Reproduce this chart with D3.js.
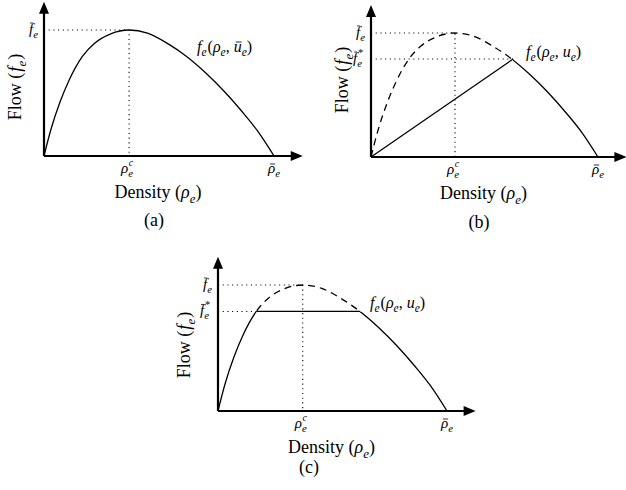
<!DOCTYPE html>
<html>
<head>
<meta charset="utf-8">
<script src="https://cdn.jsdelivr.net/npm/d3@7"></script>
<style>
  body { margin: 0; background: #fff; }
</style>
</head>
<body>
<svg id="fig" width="626" height="490"></svg>
<script>
// fundamental diagram, normalised: density / jam density, flow / capacity
const density = [0, 0.03, 0.07, 0.11, 0.167, 0.22, 0.29, 0.37, 0.45, 0.54, 0.62, 0.7, 0.78, 0.86, 0.93, 1.0]
const flow    = [0, 0.21, 0.43, 0.605, 0.79, 0.895, 0.97, 1.0, 0.975, 0.89, 0.79, 0.665, 0.52, 0.355, 0.195, 0]
const criticalDensity = 0.37
const capacity = 1
const reducedCapacity = 0.79      // f̄*_e
const kneeB = [0.626, 0.79]       // panel (b) corner of the reduced diagram
const plateauC = [0.167, 0.62]    // panel (c) flat part

const points = density.map((d, i) => ({rho: d, f: flow[i]}))

const FONT = '"Liberation Serif", "Times New Roman", "DejaVu Serif", serif'

// pixel frame of each panel: origin and where rho = 1 / f = 1 land
const panels = [
  {id: 'a', left: 44, right: 274, bottom: 156, top: 30, cap: [154, 226], flowLab: [15, 87], fn: [197, 52], fnText: 'ubar'},
  {id: 'b', left: 371, right: 598, bottom: 157, top: 33, cap: [479, 228], flowLab: [342, 80], fn: [526, 57], fnText: 'u'},
  {id: 'c', left: 218, right: 447, bottom: 411, top: 285, cap: [309, 473], flowLab: [184, 345], fn: [370, 308], fnText: 'u'}
]

const svg = d3.select('#fig')
const defs = svg.append('defs')

// math-ish labels. part: {t, k: 'it'|'rm'|'sub'|'ssup', bar, dx}
// 'ssup' = superscript stacked over the following subscript (drawn as its own text)
function mathText(g, x, y, parts, size, anchor) {
  const t = g.append('text')
    .attr('x', x).attr('y', y)
    .attr('text-anchor', anchor || 'start')
    .style('font-family', FONT)
    .style('font-size', size + 'px')
  let shift = 0, idx = 0
  const bars = [], stacks = []
  parts.forEach(p => {
    if (p.k === 'ssup') { stacks.push({t: p.t, at: idx - 1}); return }
    const s = t.append('tspan').text(p.t)
    let target = 0
    if (p.k === 'it') s.style('font-style', 'italic')
    if (p.k === 'sub') { s.style('font-style', 'italic').style('font-size', (size * 0.72) + 'px'); target = size * 0.25 }
    if (target - shift !== 0) s.attr('dy', target - shift)
    shift = target
    if (p.dx) s.attr('dx', p.dx)
    if (p.bar) bars.push({at: idx, lift: p.bar})
    idx += p.t.length
  })
  const node = t.node()
  bars.forEach(b => {
    const r = node.getExtentOfChar(b.at)
    const by = y - b.lift
    g.append('line')
      .attr('x1', r.x + r.width * 0.25).attr('x2', r.x + r.width * 1.0)
      .attr('y1', by).attr('y2', by)
      .attr('stroke', '#000').attr('stroke-width', 0.8)
  })
  stacks.forEach(s => {
    const r = node.getExtentOfChar(s.at)
    g.append('text')
      .attr('x', r.x + r.width + 0.5).attr('y', y - size * 0.5)
      .style('font-family', FONT).style('font-style', 'italic')
      .style('font-size', (size * 0.66) + 'px')
      .text(s.t)
  })
  return t
}

panels.forEach(p => {
  const g = svg.append('g').attr('class', 'panel-' + p.id)
  const x = d3.scaleLinear().domain([0, 1]).range([p.left, p.right])
  const y = d3.scaleLinear().domain([0, 1]).range([p.bottom, p.top])
  const xMax = 1.125, yMax = 1.225

  const line = d3.line()
    .curve(d3.curveMonotoneX)
    .x(d => x(d.rho))
    .y(d => y(d.f))

  // dotted guides to capacity
  g.append('path')
    .attr('d', `M${x(0)},${y(capacity)}H${x(criticalDensity)}V${y(0)}`)
    .attr('fill', 'none').attr('stroke', '#000')
    .attr('stroke-width', 1.1).attr('stroke-dasharray', '1.1,3.6')

  if (p.id !== 'a') {
    g.append('line')
      .attr('x1', x(0)).attr('x2', x(p.id === 'b' ? kneeB[0] : plateauC[0]))
      .attr('y1', y(reducedCapacity)).attr('y2', y(reducedCapacity))
      .attr('stroke', '#000').attr('stroke-width', 1.1).attr('stroke-dasharray', '1.1,3.6')
  }

  const curveStyle = sel => sel.attr('fill', 'none').attr('stroke', '#000').attr('stroke-width', 1.3)

  if (p.id === 'a') {
    g.append('path').datum(points).attr('d', line).call(curveStyle)
  } else if (p.id === 'b') {
    defs.append('clipPath').attr('id', 'clipB1').append('rect')
      .attr('x', 0).attr('y', 0).attr('width', x(kneeB[0])).attr('height', 490)
    defs.append('clipPath').attr('id', 'clipB2').append('rect')
      .attr('x', x(kneeB[0])).attr('y', 0).attr('width', 626).attr('height', 490)
    g.append('path').datum(points).attr('d', line).call(curveStyle)
      .attr('stroke-dasharray', '7,5').attr('clip-path', 'url(#clipB1)')
    g.append('path').datum(points).attr('d', line).call(curveStyle)
      .attr('clip-path', 'url(#clipB2)')
    g.append('path').datum([{rho: 0, f: 0}, {rho: kneeB[0], f: kneeB[1]}])
      .attr('d', d3.line().x(d => x(d.rho)).y(d => y(d.f))).call(curveStyle)
  } else {
    defs.append('clipPath').attr('id', 'clipC1').append('rect')
      .attr('x', 0).attr('y', 0).attr('width', 626).attr('height', y(reducedCapacity))
    defs.append('clipPath').attr('id', 'clipC2').append('rect')
      .attr('x', 0).attr('y', y(reducedCapacity)).attr('width', 626).attr('height', 490)
    g.append('path').datum(points).attr('d', line).call(curveStyle)
      .attr('stroke-dasharray', '7,5').attr('clip-path', 'url(#clipC1)')
    g.append('path').datum(points).attr('d', line).call(curveStyle)
      .attr('clip-path', 'url(#clipC2)')
    g.append('line')
      .attr('x1', x(plateauC[0])).attr('x2', x(plateauC[1]))
      .attr('y1', y(reducedCapacity)).attr('y2', y(reducedCapacity))
      .call(curveStyle)
  }

  // axes with arrow heads
  const ah = 12, aw = 5
  g.append('path')
    .attr('d', `M${x(0)},${y(0)}H${x(xMax) - ah + 1}M${x(0)},${y(0)}V${y(yMax) + ah - 1}`)
    .attr('fill', 'none').attr('stroke', '#000').attr('stroke-width', 2.2)
  g.append('path')
    .attr('d', `M${x(xMax)},${y(0)}L${x(xMax) - ah},${y(0) - aw}L${x(xMax) - ah},${y(0) + aw}Z` +
               `M${x(0)},${y(yMax)}L${x(0) - aw},${y(yMax) + ah}L${x(0) + aw},${y(yMax) + ah}Z`)
    .attr('fill', '#000')

  // tick labels
  mathText(g, x(0) - 6, y(capacity) + 4, [{t: 'f', k: 'it', bar: 11}, {t: 'e', k: 'sub'}], 15, 'end')
  if (p.id !== 'a') {
    mathText(g, x(0) - 9, y(reducedCapacity) + 4,
      [{t: 'f', k: 'it', bar: 11}, {t: '*', k: 'ssup'}, {t: 'e', k: 'sub'}], 15, 'end')
  }
  mathText(g, x(criticalDensity) - 2, y(0) + 17, [{t: '\u03c1', k: 'it'}, {t: 'c', k: 'ssup'}, {t: 'e', k: 'sub'}], 15, 'middle')
  mathText(g, x(1), y(0) + 17, [{t: '\u03c1', k: 'it', bar: 9}, {t: 'e', k: 'sub'}], 15, 'middle')

  // axis titles
  mathText(g, (x(0) + x(1)) / 2 - 1, y(0) + 42,
    [{t: 'Density (', k: 'rm'}, {t: '\u03c1', k: 'it'}, {t: 'e', k: 'sub'}, {t: ')', k: 'rm'}], 18, 'middle')
  const fl = mathText(g, 0, 0,
    [{t: 'Flow (', k: 'rm'}, {t: 'f', k: 'it', dx: 1}, {t: 'e', k: 'sub'}, {t: ')', k: 'rm', dx: 1}], 18, 'middle')
  fl.attr('transform', `translate(${p.flowLab[0] + 6},${p.flowLab[1]}) rotate(-90)`)

  // curve label
  mathText(g, p.fn[0], p.fn[1], [
    {t: 'f', k: 'it'}, {t: 'e', k: 'sub'}, {t: '(', k: 'rm', dx: 1}, {t: '\u03c1', k: 'it'}, {t: 'e', k: 'sub'},
    {t: ', ', k: 'rm'}, {t: 'u', k: 'it', bar: p.fnText === 'ubar' ? 10 : 0}, {t: 'e', k: 'sub'}, {t: ')', k: 'rm'}
  ], 16, 'start')

  // caption
  g.append('text').attr('x', p.cap[0]).attr('y', p.cap[1])
    .attr('text-anchor', 'middle')
    .style('font-family', FONT).style('font-size', '18px')
    .text('(' + p.id + ')')
})
</script>
</body>
</html>
